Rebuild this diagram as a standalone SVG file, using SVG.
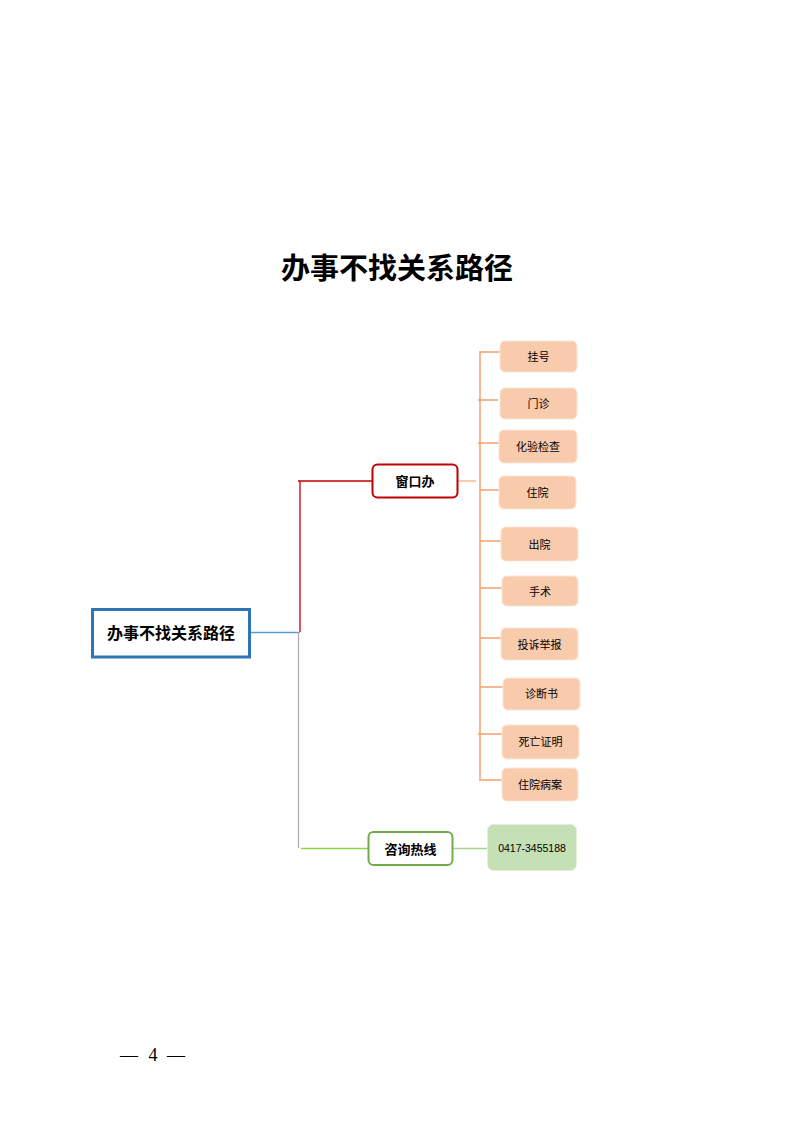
<svg xmlns="http://www.w3.org/2000/svg" width="793" height="1122" viewBox="0 0 793 1122">
<style>
.t{font-family:"Liberation Sans","Noto Sans CJK SC",sans-serif;fill:#000;text-anchor:middle;dominant-baseline:central}
.pg{font-family:"Liberation Serif",serif;font-size:18px;text-anchor:middle;dominant-baseline:central;fill:#000}
.leaf rect{fill:#f8cbad;stroke:#fbe5d6;stroke-width:1}
.leaf text{font-size:11px}
.b{font-weight:bold}
.or{stroke:#f4a06a;stroke-width:1.5;fill:none}
</style>
<rect width="793" height="1122" fill="#fff"/>
<text x="397" y="266" class="t b" style="font-family:'Noto Sans CJK SC',sans-serif;font-size:29px">办事不找关系路径</text>
<text x="129" y="1055" class="pg">—</text>
<text x="153" y="1055" class="pg">4</text>
<text x="176" y="1055" class="pg">—</text>

<g id="connectors">
  <line x1="250" y1="632.5" x2="300" y2="632.5" stroke="#5b9bd5" stroke-width="1.3"/>
  <line x1="300" y1="481" x2="300" y2="632" stroke="#d42020" stroke-width="1.5"/>
  <line x1="298" y1="481" x2="372" y2="481" stroke="#c00000" stroke-width="1.3"/>
  <line x1="298.5" y1="632" x2="298.5" y2="848" stroke="#b0b0b0" stroke-width="1.3"/>
  <line x1="301" y1="848.5" x2="368" y2="848.5" stroke="#92d050" stroke-width="1.3"/>
  <line x1="453" y1="848.5" x2="487" y2="848.5" stroke="#a9d18e" stroke-width="1.3"/>
  <line x1="458" y1="481" x2="476" y2="481" stroke="#f4b183" stroke-width="1.3"/>
  <line x1="480" y1="351" x2="480" y2="780" class="or"/>
  <line x1="480" y1="352" x2="500" y2="352" class="or"/>
  <line x1="478" y1="400" x2="498" y2="400" class="or"/>
  <line x1="478" y1="443" x2="499" y2="443" class="or"/>
  <line x1="480" y1="490" x2="499" y2="490" class="or"/>
  <line x1="480" y1="541" x2="501" y2="541" class="or"/>
  <line x1="480" y1="588" x2="502" y2="588" class="or"/>
  <line x1="480" y1="638" x2="501" y2="638" class="or"/>
  <line x1="480" y1="687" x2="503" y2="687" class="or"/>
  <line x1="478" y1="734" x2="502" y2="734" class="or"/>
  <line x1="479" y1="780" x2="502" y2="780" class="or"/>
</g>

<g id="root">
  <rect x="92.5" y="609.5" width="157" height="47.5" fill="#fff" stroke="#2e75b6" stroke-width="3"/>
  <text x="171" y="633" class="t b" style="font-size:16px">办事不找关系路径</text>
</g>
<g id="window">
  <rect x="372.5" y="464.5" width="85" height="33" rx="5" fill="#fff" stroke="#c00000" stroke-width="2"/>
  <text x="415" y="481.5" class="t b" style="font-size:13px">窗口办</text>
</g>
<g id="hotline">
  <rect x="368.5" y="832" width="84" height="33" rx="5" fill="#fff" stroke="#70ad47" stroke-width="2"/>
  <text x="410.5" y="849" class="t b" style="font-size:13px">咨询热线</text>
</g>
<g id="phone">
  <rect x="487.5" y="824.5" width="89" height="46" rx="6" fill="#c5e0b4" stroke="#e2f0d9" stroke-width="1"/>
  <text x="532" y="848" class="t" style="font-size:10.5px">0417-3455188</text>
</g>
<g id="n1" class="leaf"><rect x="500" y="341" width="77" height="31" rx="5"/><text x="538.5" y="357" class="t">挂号</text></g>
<g id="n2" class="leaf"><rect x="500" y="388" width="77" height="31" rx="5"/><text x="538.5" y="404" class="t">门诊</text></g>
<g id="n3" class="leaf"><rect x="499" y="430" width="78" height="33" rx="5"/><text x="538" y="447" class="t">化验检查</text></g>
<g id="n4" class="leaf"><rect x="499" y="476" width="77" height="33" rx="5"/><text x="537.5" y="493" class="t">住院</text></g>
<g id="n5" class="leaf"><rect x="501" y="527" width="77" height="34" rx="5"/><text x="539.5" y="545" class="t">出院</text></g>
<g id="n6" class="leaf"><rect x="502" y="576" width="76" height="30" rx="5"/><text x="540" y="592" class="t">手术</text></g>
<g id="n7" class="leaf"><rect x="501" y="628" width="77" height="32" rx="5"/><text x="539.5" y="645" class="t">投诉举报</text></g>
<g id="n8" class="leaf"><rect x="503" y="678" width="77" height="32" rx="5"/><text x="541.5" y="694" class="t">诊断书</text></g>
<g id="n9" class="leaf"><rect x="502" y="725" width="77" height="34" rx="5"/><text x="540.5" y="742" class="t">死亡证明</text></g>
<g id="n10" class="leaf"><rect x="502" y="768" width="76" height="33" rx="5"/><text x="540" y="785" class="t">住院病案</text></g>
</svg>
